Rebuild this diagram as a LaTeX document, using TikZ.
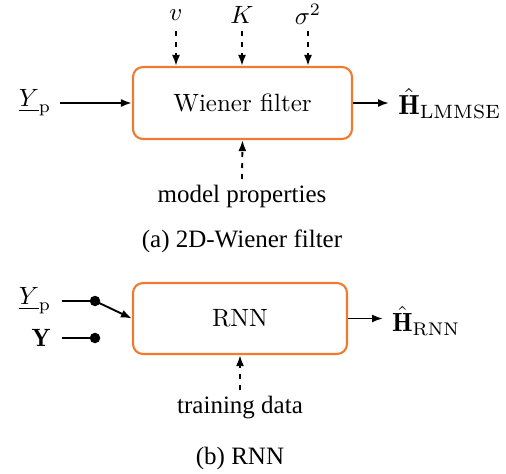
\documentclass[tikz,border=0pt]{standalone}
\usepackage{fontspec}
\usepackage{amsmath}
\newfontfamily\tms{Liberation Serif}
\usetikzlibrary{arrows.meta}
\definecolor{boxorange}{HTML}{F07A2E}
\begin{document}
\begin{tikzpicture}[x=0.4pt,y=-0.4pt,
  blk/.style={draw=boxorange, line width=0.85pt, rounded corners=4pt, inner sep=0pt},
  arr/.style={line width=0.75pt, -{Latex[length=4.4pt,width=3.2pt]}},
  darr/.style={arr, dash pattern=on 2pt off 2.4pt},
  lbl/.style={inner sep=1pt},
  dot/.style={circle, fill=black, inner sep=0pt, minimum size=4.2pt}]
\useasboundingbox (0,0) rectangle (506,473);
% (a) Wiener filter
\node[blk, minimum width=87.6pt, minimum height=28.8pt] (wf) at (242.5,103) {Wiener filter};
\node[lbl] (v) at (176,15) {$v$};
\node[lbl] (K) at (242,15) {$K$};
\node[lbl] (s) at (308,14) {$\sigma^2$};
\coordinate (vs) at (176,31);
\coordinate (Ks) at (242,31);
\coordinate (ss) at (308,31);
\draw[darr] (vs) -- (vs |- wf.north);
\draw[darr] (Ks) -- (Ks |- wf.north);
\draw[darr] (ss) -- (ss |- wf.north);
\node[lbl] (yp) at (35,103) {$\underline{Y}_{\mathrm{p}}$};
\coordinate (ypo) at (60,103);
\draw[arr] (ypo) -- (wf.west);
\node[lbl, anchor=west, scale=1.1] (hl) at (395,104) {$\hat{\mathbf{H}}_{\mathrm{LMMSE}}$};
\coordinate (hli) at (389,103);
\draw[arr] (wf.east) -- (hli);
\node[lbl] (mp) at (242,196) {\tms model properties};
\coordinate (mps) at (242,179);
\draw[darr] (mps) -- (wf.south);
\node[lbl] (capa) at (242,241) {\tms (a) 2D-Wiener filter};
% (b) RNN
\node[blk, minimum width=85.6pt, minimum height=28.4pt] (rnn) at (240,318.5) {RNN};
\node[lbl] (yp2) at (35,301) {$\underline{Y}_{\mathrm{p}}$};
\node[lbl] (Y) at (41,338) {$\mathbf{Y}$};
\node[dot] (d1) at (95,301) {};
\node[dot] (d2) at (95,338) {};
\coordinate (y1s) at (62,301);
\coordinate (y2s) at (62,338);
\draw[line width=0.75pt] (y1s) -- (d1.center);
\draw[line width=0.75pt] (y2s) -- (d2.center);
\draw[arr] (d1.center) -- (rnn.west);
\node[lbl, anchor=west, scale=1.05] (hr) at (389,321) {$\hat{\mathbf{H}}_{\mathrm{RNN}}$};
\coordinate (hri) at (383,318.5);
\draw[arr] (rnn.east) -- (hri);
\node[lbl] (td) at (240,408) {\tms training data};
\coordinate (tds) at (240,390);
\draw[darr] (tds) -- (rnn.south);
\node[lbl] (capb) at (240,458) {\tms (b) RNN};
\end{tikzpicture}
\end{document}
